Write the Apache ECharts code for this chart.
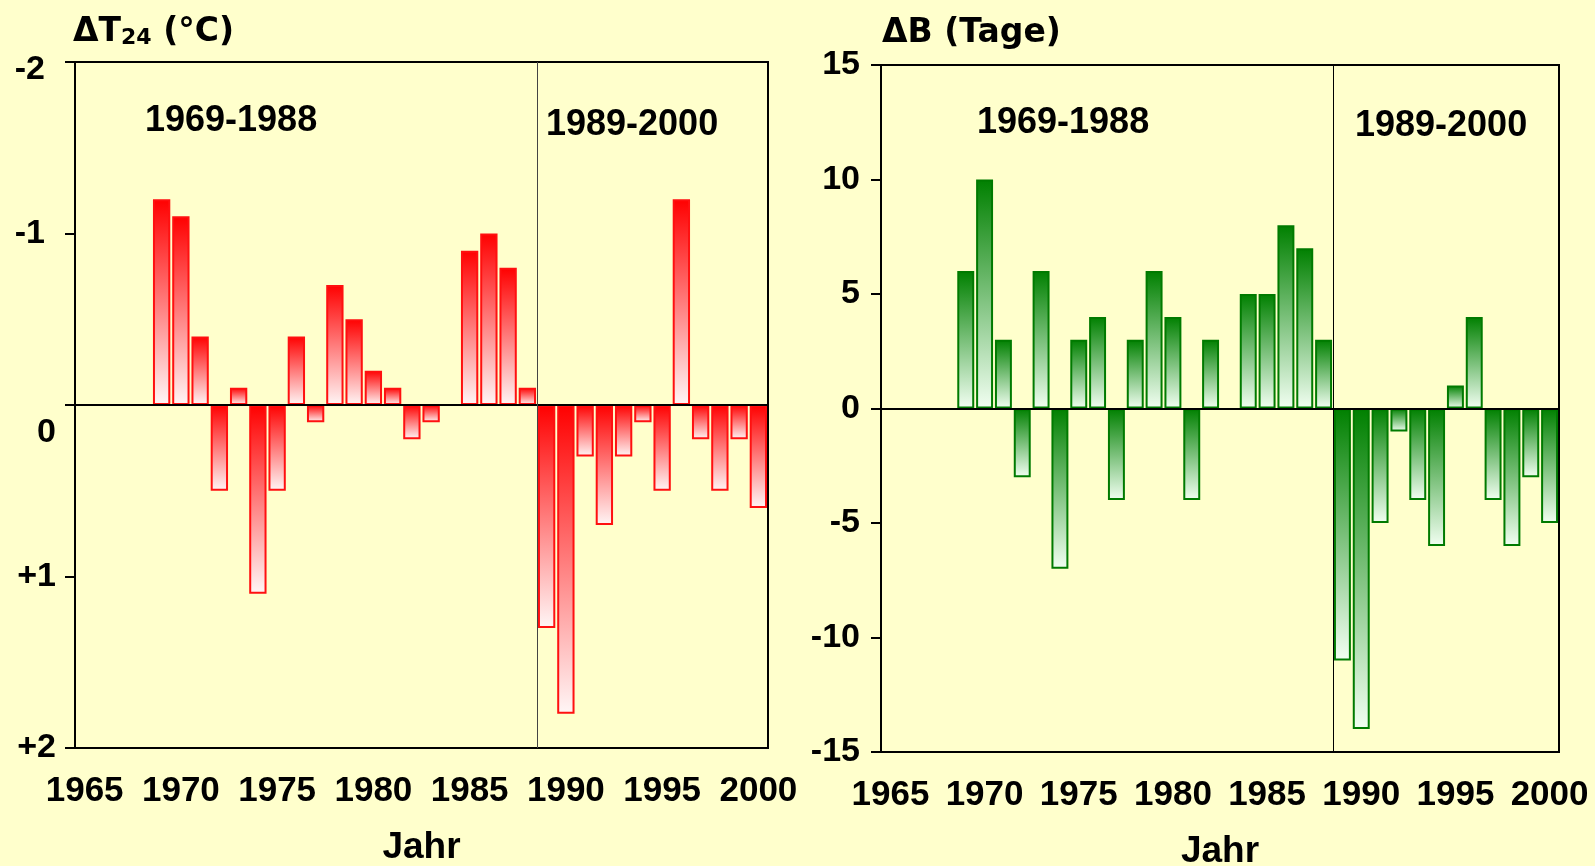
<!DOCTYPE html>
<html>
<head>
<meta charset="utf-8">
<title>ΔT24 / ΔB</title>
<script src="https://cdn.jsdelivr.net/npm/echarts@6/dist/echarts.min.js"></script>
<style>
  html, body { margin: 0; padding: 0; background: #FFFFCC; }
  #chart { width: 1595px; height: 866px; }
</style>
</head>
<body>
<div id="chart"></div>
<script>
// Years on the horizontal axis
const years = ['1965','1966','1967','1968','1969','1970','1971','1972','1973','1974',
               '1975','1976','1977','1978','1979','1980','1981','1982','1983','1984',
               '1985','1986','1987','1988','1989','1990','1991','1992','1993','1994',
               '1995','1996','1997','1998','1999','2000'];

// Temperature anomaly ΔT24 (°C), one value per year (null = no bar)
const deltaT = [null, null, null, null, -1.2, -1.1, -0.4, 0.5, -0.1, 1.1,
                0.5, -0.4, 0.1, -0.7, -0.5, -0.2, -0.1, 0.2, 0.1, null,
                -0.9, -1.0, -0.8, -0.1, 1.3, 1.8, 0.3, 0.7, 0.3, 0.1,
                0.5, -1.2, 0.2, 0.5, 0.2, 0.6];

// Anomaly ΔB (Tage), one value per year (null = no bar)
const deltaB = [null, null, null, null, 6, 10, 3, -3, 6, -7,
                3, 4, -4, 3, 6, 4, -4, 3, null, 5,
                5, 8, 7, 3, -11, -14, -5, -1, -4, -6,
                1, 4, -4, -6, -3, -5];

// Tick labels of the ΔT axis (axis runs from -2 at the top to +2 at the bottom)
const tTickValues = [-2, -1, 0, 1, 2];
const tTickLabels = ['-2', '-1', '0', '+1', '+2'];

// Period captions and the boundary between them
const periods = ['1969-1988', '1989-2000'];
const periodBreak = 1988.5;

const xAxisTitle = 'Jahr';
const titleB = 'ΔB (Tage)';

const BG = '#FFFFCC';
const TICK_FONT = 'Liberation Sans';
const TITLE_FONT = 'DejaVu Sans';
const Y_FONT_SIZE = 34;

function gradient(top, bottom) {
  return {
    type: 'linear', x: 0, y: 0, x2: 0, y2: 1,
    colorStops: [{ offset: 0, color: top }, { offset: 1, color: bottom }]
  };
}

function categoryAxis(gridIndex) {
  return {
    type: 'category',
    gridIndex: gridIndex,
    data: years,
    position: 'bottom',
    boundaryGap: true,
    axisLine: { onZero: false, lineStyle: { color: '#000', width: 2 } },
    axisTick: { alignWithLabel: true, interval: 4, length: 10, lineStyle: { color: '#000', width: 2 } },
    axisLabel: {
      interval: 4, margin: 26, color: '#000',
      fontFamily: TICK_FONT, fontWeight: 'bold', fontSize: 35
    },
    name: xAxisTitle,
    nameLocation: 'middle',
    nameGap: 81,
    nameTextStyle: { fontFamily: TICK_FONT, fontWeight: 'bold', fontSize: 37, color: '#000' },
    splitLine: { show: false }
  };
}

// Hidden continuous year axis, used to place the period boundary between two years
function yearValueAxis(gridIndex) {
  return {
    type: 'value', gridIndex: gridIndex, show: false,
    min: 1964.5, max: 2000.5, splitLine: { show: false }
  };
}

function dividerSeries(xAxisIndex, yAxisIndex, color) {
  return {
    type: 'line', xAxisIndex: xAxisIndex, yAxisIndex: yAxisIndex,
    data: [], silent: true,
    markLine: {
      silent: true, symbol: ['none', 'none'], animation: false,
      label: { show: false },
      lineStyle: { color: color, width: 1, type: 'solid' },
      data: [{ xAxis: periodBreak }]
    }
  };
}

function barSeries(data, xAxisIndex, yAxisIndex, top, bottom, border) {
  return {
    type: 'bar', xAxisIndex: xAxisIndex, yAxisIndex: yAxisIndex,
    data: data,
    barCategoryGap: '10%',
    itemStyle: { color: gradient(top, bottom), borderColor: border, borderWidth: 2 },
    emphasis: { disabled: true },
    markLine: {
      silent: true, symbol: ['none', 'none'], animation: false,
      label: { show: false },
      lineStyle: { color: '#000', width: 2, type: 'solid' },
      data: [{ yAxis: 0 }]
    }
  };
}

function yRich(padding) {
  const s = { fontFamily: TICK_FONT, fontWeight: 'bold', fontSize: Y_FONT_SIZE, color: '#000' };
  if (padding) s.padding = padding;
  return s;
}

const chart = echarts.init(document.getElementById('chart'), null, { renderer: 'canvas' });

const option = {
  backgroundColor: BG,
  animation: false,
  grid: [
    { left: 75, right: 827, top: 62, bottom: 118, outerBoundsMode: 'none', containLabel: false,
      show: true, borderColor: '#000', borderWidth: 2, backgroundColor: 'transparent' },
    { left: 881, right: 36, top: 65, bottom: 114, outerBoundsMode: 'none', containLabel: false,
      show: true, borderColor: '#000', borderWidth: 2, backgroundColor: 'transparent' }
  ],
  xAxis: [categoryAxis(0), yearValueAxis(0), categoryAxis(1), yearValueAxis(1)],
  yAxis: [
    {
      type: 'value', gridIndex: 0, inverse: true,
      min: -2, max: 2, interval: 1,
      axisLine: { show: true, lineStyle: { color: '#000', width: 2 } },
      axisTick: { show: true, length: 10, lineStyle: { color: '#000', width: 2 } },
      splitLine: { show: false },
      axisLabel: {
        margin: 19, color: '#000',
        fontFamily: TICK_FONT, fontWeight: 'bold', fontSize: Y_FONT_SIZE,
        formatter: function (v) {
          const i = tTickValues.indexOf(v);
          const text = i >= 0 ? tTickLabels[i] : String(v);
          if (v === tTickValues[0]) return '{t|' + text + '}';
          if (v === 0) return '{z|' + text + '}';
          if (v < 0) return '{n|' + text + '}';
          return '{p|' + text + '}';
        },
        rich: {
          p: yRich(null),
          n: yRich([0, 11, 0, 0]),
          t: yRich([16, 11, 0, 0]),
          z: yRich([56, 0, 0, 0])
        }
      }
    },
    {
      type: 'value', gridIndex: 1,
      min: -15, max: 15, interval: 5,
      axisLine: { show: true, lineStyle: { color: '#000', width: 2 } },
      axisTick: { show: true, length: 10, lineStyle: { color: '#000', width: 2 } },
      splitLine: { show: false },
      axisLabel: {
        margin: 21, color: '#000',
        fontFamily: TICK_FONT, fontWeight: 'bold', fontSize: Y_FONT_SIZE
      }
    }
  ],
  series: [
    barSeries(deltaT, 0, 0, '#FF0000', '#FFF6F6', '#FF1010'),
    dividerSeries(1, 0, '#444'),
    barSeries(deltaB, 2, 1, '#008000', '#F2FFF2', '#007A00'),
    dividerSeries(3, 1, '#000')
  ],
  graphic: [
    {
      type: 'text', left: 73, top: 16, silent: true,
      style: {
        text: '{m|ΔT}{s|24}{m| (°C)}',
        fill: '#000',
        rich: {
          m: { fontFamily: TITLE_FONT, fontWeight: 'bold', fontSize: 33, lineHeight: 38, verticalAlign: 'bottom', fill: '#000' },
          s: { fontFamily: TITLE_FONT, fontWeight: 'bold', fontSize: 22, lineHeight: 25, verticalAlign: 'bottom', fill: '#000' }
        }
      }
    },
    {
      type: 'text', left: 882, top: 17, silent: true,
      style: { text: titleB, fill: '#000', font: 'bold 33px "' + TITLE_FONT + '"' }
    },
    {
      type: 'text', left: 145, top: 103, silent: true,
      style: { text: periods[0], fill: '#000', font: 'bold 36px "' + TICK_FONT + '"' }
    },
    {
      type: 'text', left: 546, top: 107, silent: true,
      style: { text: periods[1], fill: '#000', font: 'bold 36px "' + TICK_FONT + '"' }
    },
    {
      type: 'text', left: 977, top: 105, silent: true,
      style: { text: periods[0], fill: '#000', font: 'bold 36px "' + TICK_FONT + '"' }
    },
    {
      type: 'text', left: 1355, top: 108, silent: true,
      style: { text: periods[1], fill: '#000', font: 'bold 36px "' + TICK_FONT + '"' }
    }
  ]
};

chart.setOption(option);
</script>
</body>
</html>
